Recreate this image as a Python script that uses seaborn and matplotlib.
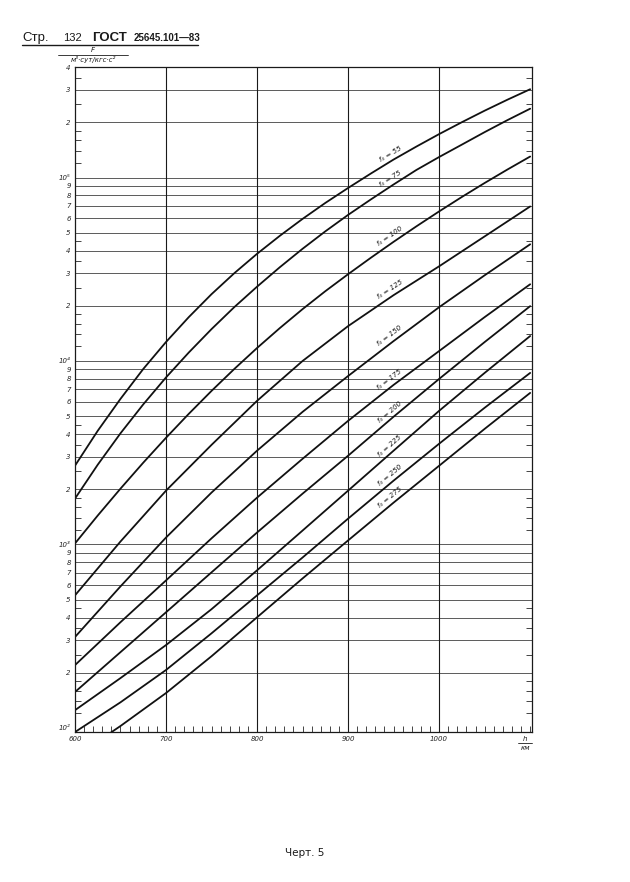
import numpy as np
import pandas as pd
import matplotlib
matplotlib.use("Agg")
import matplotlib.pyplot as plt
import seaborn as sns
from matplotlib.lines import Line2D
from matplotlib.ticker import FixedLocator, NullFormatter

# heights, km (the strongly bent upper curves are read every 25 km)
h_fine = [600, 625, 650, 675, 700, 725, 750, 775, 800, 825, 850, 875, 900,
          925, 950, 975, 1000, 1025, 1050, 1075, 1100]
h_km = [600, 650, 700, 750, 800, 850, 900, 950, 1000, 1050, 1100]
f0_values = [55, 75, 100, 125, 150, 175, 200, 225, 250, 275]

# F values for every f0 curve
F_55 = [2687, 4165, 6217, 9047, 12690, 17340, 23130, 30090, 38380, 48100, 59490,
        72680, 87680, 105100, 125300, 147400, 172400, 200200, 231300, 265400, 302700]
F_75 = [1778, 2721, 4036, 5801, 8136, 11120, 14920, 19660, 25410, 32430, 40880,
        50880, 62550, 75930, 91620, 109900, 129300, 151100, 176700, 205400, 237100]
F_100 = [1013, 1438, 2015, 2791, 3815, 5152, 6871, 9047, 11770, 15110, 19170,
         24010, 29710, 36520, 44620, 54160, 65340, 78340, 93340, 110500, 130100]
F_125 = [528, 1038, 1965, 3490, 6065, 10000, 15490, 22850, 32810, 47750, 69530]
F_150 = [313, 591, 1091, 1918, 3245, 5280, 8280, 12840, 19640, 29310, 43250]
F_175 = [220, 377, 637, 1080, 1800, 2930, 4718, 7410, 11330, 17340, 26190]
F_200 = [157, 259, 427, 705, 1162, 1892, 3046, 4970, 7985, 12680, 19900]
F_225 = [125, 187, 283, 444, 723, 1191, 1965, 3245, 5350, 8610, 13680]
F_250 = [95, 138, 207, 328, 528, 849, 1383, 2228, 3540, 5560, 8610]
F_275 = [69.5, 102.5, 155, 246, 401, 653, 1052, 1691, 2685, 4266, 6700]

series = [F_55, F_75, F_100, F_125, F_150, F_175, F_200, F_225, F_250, F_275]
grids = [h_fine, h_fine, h_fine] + [h_km] * 7

rows = []
for f0, hs, vals in zip(f0_values, grids, series):
    for h, v in zip(hs, vals):
        rows.append({"h": h, "F": v, "f0": f0})
df = pd.DataFrame(rows)

y_major = [k * 10 ** n for n in range(2, 6) for k in range(1, 10) if k * 10 ** n <= 4e5]
sup = {2: "²", 3: "³", 4: "⁴", 5: "⁵"}
y_labels = []
for v in y_major:
    n = int(np.floor(np.log10(v) + 1e-9))
    k = int(round(v / 10 ** n))
    y_labels.append("10" + sup[n] if k == 1 else str(k))
y_minor = [k * 10 ** n for n in range(2, 6) for k in [1.2, 1.4, 1.6, 1.8, 2.5, 3.5, 4.5] if k * 10 ** n <= 4e5]
x_major = [600, 700, 800, 900, 1000]

sns.set_style("white")
plt.rcParams["font.family"] = ["DejaVu Sans"]

fig = plt.figure(figsize=(6.3, 8.82), dpi=100)
ax = fig.add_axes([0.119, 0.170, 0.7254, 0.754])

sns.lineplot(data=df, x="h", y="F", hue="f0", palette=["#111111"] * len(f0_values),
             legend=False, linewidth=1.3, ax=ax)
ax.set_yscale("log")
ax.set_xlim(600, 1102)
ax.set_ylim(95, 4e5)

for v in y_major[1:]:
    ax.axhline(v, color="0.25", lw=0.6, zorder=0)
for v in x_major[1:]:
    ax.axvline(v, color="0.1", lw=0.8, zorder=0)

ax.yaxis.set_major_locator(FixedLocator(y_major))
ax.set_yticklabels(y_labels, fontsize=5, style="italic")
ax.yaxis.set_minor_locator(FixedLocator(y_minor))
ax.yaxis.set_minor_formatter(NullFormatter())
ax.set_xticks(x_major)
ax.set_xticklabels([str(v) for v in x_major], fontsize=5, style="italic")
ax.set_xticks(list(range(610, 1101, 10)), minor=True)
ax.tick_params(axis="both", which="major", length=0, pad=3)
ax.tick_params(axis="y", which="minor", direction="in", length=4, width=0.6, left=True, right=True)
ax.tick_params(axis="x", which="minor", direction="in", length=4, width=0.6, bottom=True)
ax.set_xlabel("")
ax.set_ylabel("")
for s in ax.spines.values():
    s.set_color("0.1")
    s.set_linewidth(0.9)

# curve labels along the lines, near h = 950
for f0, hs, vals in zip(f0_values, grids, series):
    i9, i95, i10 = hs.index(900), hs.index(950), hs.index(1000)
    p1 = ax.transData.transform((900, vals[i9]))
    p2 = ax.transData.transform((1000, vals[i10]))
    ang = np.degrees(np.arctan2(p2[1] - p1[1], p2[0] - p1[0]))
    d = 2.5
    ax.annotate(f"f₀ = {f0}", xy=(950, vals[i95]),
                xytext=(-np.sin(np.radians(ang)) * d, np.cos(np.radians(ang)) * d),
                textcoords="offset points", rotation=ang, rotation_mode="anchor",
                ha="center", va="bottom", fontsize=5, style="italic", color="0.1")

# header
hy = 1 - 41 / 882
fig.text(22 / 630, hy, "Стр.", fontsize=9.5, family="Liberation Sans", color="0.1")
fig.text(63 / 630, hy, "132", fontsize=8, family="Liberation Sans", color="0.1")
fig.text(92 / 630, hy, "ГОСТ", fontsize=9.5, family="Liberation Sans", weight="bold", color="0.1")
fig.text(134 / 630, hy, "25645.101—83", fontsize=7, family="Liberation Sans", weight="bold", color="0.1")
fig.add_artist(Line2D([22 / 630, 198 / 630], [1 - 45 / 882] * 2, color="0.1", lw=1.0))

# y unit
fig.text(93 / 630, 1 - 52 / 882, "F", fontsize=5, style="italic", ha="center", color="0.1")
fig.add_artist(Line2D([58 / 630, 128 / 630], [1 - 55 / 882] * 2, color="0.1", lw=0.6))
fig.text(93 / 630, 1 - 62 / 882, "м³·сут/кгс·с²", fontsize=5, style="italic", ha="center", color="0.1")

# x unit
fig.text(525 / 630, 1 - 741 / 882, "h", fontsize=5, style="italic", ha="center", color="0.1")
fig.add_artist(Line2D([518 / 630, 532 / 630], [1 - 743 / 882] * 2, color="0.1", lw=0.6))
fig.text(525 / 630, 1 - 750 / 882, "км", fontsize=5, style="italic", ha="center", color="0.1")

# footer
fig.text(305 / 630, 1 - 856 / 882, "Черт. 5", fontsize=7.5, ha="center", color="0.1")

fig.savefig("out.png", dpi=100, facecolor="white")
